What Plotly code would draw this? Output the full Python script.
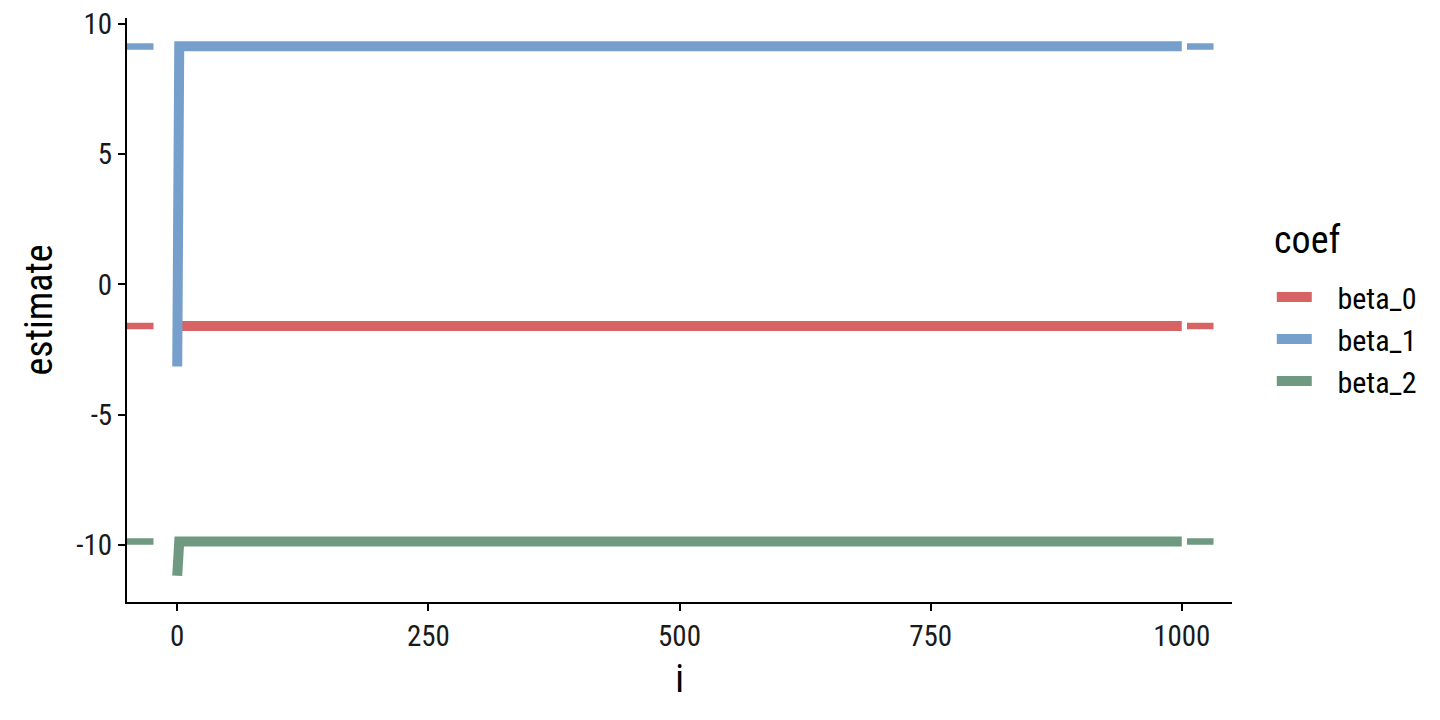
import plotly.graph_objects as go

# ---- data ----
coefs = ["beta_0", "beta_1", "beta_2"]
colors = ["#D86364", "#779FCB", "#6F9980"]
i_vals = [0, 1, 2, 1000]
est_beta_0 = [-1.59, -1.59, -1.59, -1.59]
est_beta_1 = [-3.15, 9.15, 9.15, 9.15]
est_beta_2 = [-11.18, -9.87, -9.87, -9.87]
true_vals = [-1.59, 9.14, -9.87]
x_ticks = [0, 250, 500, 750, 1000]
y_ticks = [-10, -5, 0, 5, 10]
legend_title = "coef"

FONT = "Roboto Condensed, Liberation Sans Narrow, Roboto, sans-serif"
PAD = "\u00a0\u00a0\u00a0"

fig = go.Figure()
series = [est_beta_0, est_beta_1, est_beta_2]
for name, col, ys in zip(coefs, colors, series):
    fig.add_trace(go.Scatter(x=i_vals, y=ys, mode="lines", name=PAD + name, legendgroup=name,
                             line=dict(color=col, width=10)))

for col, tv in zip(colors, true_vals):
    fig.add_shape(type="line", xref="paper", x0=0, x1=1, yref="y", y0=tv, y1=tv,
                  line=dict(color=col, width=6.5, dash="26.5px,26.5px"), layer="below")

fig.add_annotation(text=legend_title, xref="paper", yref="paper", x=1.0362, y=0.62,
                   xanchor="left", yanchor="middle", showarrow=False,
                   font=dict(size=38, family=FONT, color="black"))

# page body has an 8px margin: figure placed at (8,8)
fig.update_layout(
    width=1424, height=704,
    margin=dict(l=119, r=200, t=10, b=110, autoexpand=False),
    plot_bgcolor="white", paper_bgcolor="white",
    font=dict(family=FONT, color="black", size=29),
    showlegend=True,
    legend=dict(x=1.036, xanchor="left", y=0.4503, yanchor="middle",
                font=dict(size=30), tracegroupgap=0, itemwidth=35),
    xaxis=dict(range=[-50, 1050], tickvals=x_ticks, ticktext=[str(v) for v in x_ticks],
               showline=True, linecolor="black", linewidth=2, ticks="outside",
               tickcolor="black", tickwidth=2, ticklen=7, showgrid=False, zeroline=False,
               title=dict(text="i", font=dict(size=38), standoff=14), automargin=False,
               tickfont=dict(size=29, color="#1a1a1a"), ticklabeloverflow="allow"),
    yaxis=dict(range=[-12.19, 10.23], tickvals=y_ticks, ticktext=[str(v) for v in y_ticks],
               showline=True, linecolor="black", linewidth=2, ticks="outside",
               tickcolor="black", tickwidth=2, ticklen=7, showgrid=False, zeroline=False,
               title=dict(text="estimate", font=dict(size=38), standoff=12), automargin=False,
               tickfont=dict(size=29, color="#1a1a1a"), ticklabeloverflow="allow"),
)

fig.write_html("out.html")
